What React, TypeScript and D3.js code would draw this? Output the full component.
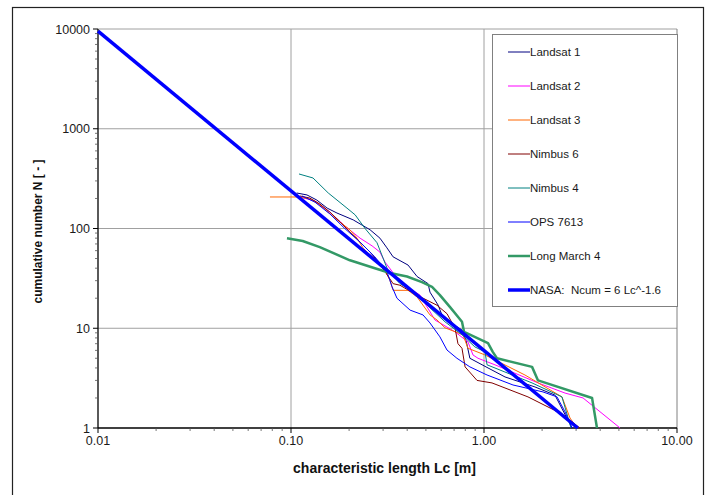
import React from "react";
import * as d3 from "d3";

// values: [Lc in m, cumulative number N]
const landsat1: [number, number][] = [
  [0.107, 227], [0.121, 217], [0.136, 193], [0.154, 160], [0.173, 143], [0.21, 122],
  [0.257, 97], [0.289, 80], [0.314, 64], [0.338, 52], [0.404, 43], [0.45, 33],
  [0.513, 28], [0.525, 23], [0.578, 17.1], [0.614, 12.7], [0.769, 9.6], [0.807, 7.6],
  [0.845, 5.0], [1.049, 4.0], [1.285, 3.25], [1.837, 2.58], [2.33, 2.14], [2.86, 1],
];
const landsat2: [number, number][] = [
  [0.111, 207], [0.133, 189], [0.159, 146], [0.19, 106], [0.228, 80], [0.263, 67],
  [0.289, 58], [0.307, 46], [0.346, 34], [0.414, 25], [0.466, 21.5], [0.557, 12.1],
  [0.708, 9.2], [0.826, 7.3], [0.877, 5.4], [0.931, 5.0], [1.14, 4.3], [1.905, 2.83],
  [2.63, 2.24], [3.26, 2.0], [5.07, 1],
];
const landsat3: [number, number][] = [
  [0.0778, 207], [0.1086, 207], [0.125, 198], [0.141, 172], [0.169, 127], [0.202, 97],
  [0.22, 80], [0.236, 64], [0.272, 48], [0.307, 38], [0.326, 30], [0.338, 24],
  [0.404, 24], [0.45, 20.6], [0.525, 13.6], [0.571, 12.1], [0.628, 10.1], [0.778, 8.6],
  [0.826, 6.3], [1.012, 5.4], [1.63, 3.4], [2.535, 2.05], [2.79, 1.26], [3.03, 1],
];
const nimbus6: [number, number][] = [
  [0.111, 212], [0.125, 202], [0.141, 176], [0.159, 146], [0.18, 116], [0.202, 92],
  [0.228, 73], [0.257, 58], [0.289, 44], [0.338, 28], [0.367, 27], [0.439, 22],
  [0.571, 17], [0.643, 14], [0.708, 10], [0.733, 7], [0.769, 6.3], [0.798, 4.1],
  [0.92, 3.0], [1.1, 2.83], [1.69, 2.05], [2.33, 1.5], [2.86, 1.15], [3.14, 1],
];
const nimbus4: [number, number][] = [
  [0.11, 352], [0.13, 321], [0.156, 227], [0.195, 160], [0.215, 137], [0.242, 100],
  [0.279, 72], [0.307, 45], [0.318, 38], [0.367, 28], [0.439, 22.6], [0.525, 16],
  [0.628, 11.6], [0.769, 8.6], [0.897, 6.5], [1.012, 5.8], [1.037, 4.3], [1.774, 2.83],
  [2.535, 2.05], [2.825, 1],
];
const ops7613: [number, number][] = [
  [0.114, 212], [0.133, 184], [0.159, 140], [0.19, 100], [0.228, 73], [0.272, 52],
  [0.314, 37], [0.334, 26], [0.354, 20], [0.414, 15.2], [0.483, 13.6], [0.525, 11.3],
  [0.591, 8.2], [0.643, 6.05], [0.724, 5.0], [0.845, 4.1], [1.037, 3.4], [1.413, 2.7],
  [2.02, 2.3], [2.39, 2.05], [2.63, 1.45], [2.86, 1],
];
const longMarch4: [number, number][] = [
  [0.0953, 80], [0.115, 75], [0.141, 65], [0.202, 48], [0.272, 40], [0.326, 35.8],
  [0.399, 33], [0.477, 29], [0.538, 26], [0.591, 21.5], [0.667, 16.3], [0.769, 11.6],
  [0.788, 9.2], [1.049, 7.1], [1.11, 5.8], [1.167, 5.0], [1.774, 4.1], [1.905, 3.0],
  [3.63, 2.0], [3.85, 1],
];
const nasa: [number, number][] = [[0.01, 9500], [3.06, 1]];

const seriesNames = [
  "Landsat 1", "Landsat 2", "Landsat 3", "Nimbus 6", "Nimbus 4", "OPS 7613",
  "Long March 4", "NASA:  Ncum = 6 Lc^-1.6",
];
const seriesData = [landsat1, landsat2, landsat3, nimbus6, nimbus4, ops7613, longMarch4, nasa];
const seriesColors = ["#000080", "#FF00FF", "#FF6600", "#800000", "#008080", "#0000FF", "#339966", "#0000FF"];
const seriesWidths = [1, 1, 1, 1, 1, 1, 2.5, 3.5];

const xTickValues = [0.01, 0.1, 1, 10];
const xTickLabels = ["0.01", "0.10", "1.00", "10.00"];
const yTickValues = [1, 10, 100, 1000, 10000];
const yTickLabels = ["1", "10", "100", "1000", "10000"];

const W = 707;
const H = 495;
const plot = { left: 98, right: 677, top: 29, bottom: 428 };
const font = "'Liberation Sans', Arial, sans-serif";

export default function App() {
  const x = d3.scaleLog().domain([0.01, 10]).range([plot.left, plot.right]);
  const y = d3.scaleLog().domain([1, 10000]).range([plot.bottom, plot.top]);

  const line = d3
    .line<[number, number]>()
    .x((d) => x(d[0]))
    .y((d) => y(d[1]));

  // minor ticks 2..9 in each decade
  const xMinor: number[] = [];
  [0.01, 0.1, 1].forEach((b) => d3.range(2, 10).forEach((k) => xMinor.push(b * k)));
  const yMinor: number[] = [];
  [1, 10, 100, 1000].forEach((b) => d3.range(2, 10).forEach((k) => yMinor.push(b * k)));

  const legend = { left: 492, top: 34, right: 677, bottom: 306 };
  const legendY = d3
    .scaleLinear()
    .domain([0, seriesNames.length - 1])
    .range([52, 290]);

  return (
    <svg
      width={W}
      height={H}
      style={{ position: "absolute", left: 0, top: 0, background: "#fff" }}
      fontFamily={font}
    >
      <rect x={12.5} y={7.5} width={691} height={500} fill="#fff" stroke="#222" strokeWidth={1.2} />

      {/* gridlines */}
      {xTickValues.slice(1, 3).map((v) => (
        <line key={"gx" + v} x1={x(v)} x2={x(v)} y1={plot.top} y2={plot.bottom} stroke="#a0a0a0" strokeWidth={1} />
      ))}
      {yTickValues.slice(1).map((v) => (
        <line key={"gy" + v} x1={plot.left} x2={plot.right} y1={y(v)} y2={y(v)} stroke="#a0a0a0" strokeWidth={1} />
      ))}
      <line x1={plot.right} x2={plot.right} y1={plot.top} y2={plot.bottom} stroke="#808080" strokeWidth={1} />

      {/* axes */}
      <line x1={plot.left} x2={plot.left} y1={plot.top} y2={plot.bottom} stroke="#000" strokeWidth={1.3} />
      <line x1={plot.left} x2={plot.right} y1={plot.bottom} y2={plot.bottom} stroke="#000" strokeWidth={1.3} />
      {yMinor.map((v) => (
        <line key={"my" + v} x1={plot.left - 3} x2={plot.left} y1={y(v)} y2={y(v)} stroke="#555" strokeWidth={0.8} />
      ))}
      {yTickValues.map((v, i) => (
        <g key={"ty" + v}>
          <line x1={plot.left - 5} x2={plot.left} y1={y(v)} y2={y(v)} stroke="#000" />
          <text x={plot.left - 8} y={y(v) + 4.5} textAnchor="end" fontSize={12.5} fill="#1a1a1a">
            {yTickLabels[i]}
          </text>
        </g>
      ))}
      {xMinor.map((v) => (
        <line key={"mx" + v} x1={x(v)} x2={x(v)} y1={plot.bottom} y2={plot.bottom + 3} stroke="#555" strokeWidth={0.8} />
      ))}
      {xTickValues.map((v, i) => (
        <g key={"tx" + v}>
          <line x1={x(v)} x2={x(v)} y1={plot.bottom} y2={plot.bottom + 5} stroke="#000" />
          <text x={x(v)} y={plot.bottom + 17} textAnchor="middle" fontSize={12.5} fill="#1a1a1a">
            {xTickLabels[i]}
          </text>
        </g>
      ))}

      {/* series */}
      {seriesData.map((d, i) => (
        <path
          key={"s" + i}
          d={line(d) ?? ""}
          fill="none"
          stroke={seriesColors[i]}
          strokeWidth={seriesWidths[i]}
          strokeLinejoin="round"
        />
      ))}

      {/* axis titles */}
      <text x={(plot.left + plot.right) / 2 - 3} y={473} textAnchor="middle" fontSize={14} fontWeight="bold" fill="#111">
        characteristic length Lc [m]
      </text>
      <text
        transform={`translate(42, ${(plot.top + plot.bottom) / 2 + 3}) rotate(-90)`}
        textAnchor="middle"
        fontSize={12}
        fontWeight="bold"
        fill="#111"
      >
        cumulative number N [ - ]
      </text>

      {/* legend */}
      <rect
        x={legend.left + 0.5}
        y={legend.top + 0.5}
        width={legend.right - legend.left}
        height={legend.bottom - legend.top}
        fill="#fff"
        stroke="#808080"
      />
      {seriesNames.map((name, i) => (
        <g key={"lg" + i}>
          <line x1={508} x2={530} y1={legendY(i)} y2={legendY(i)} stroke={seriesColors[i]} strokeWidth={seriesWidths[i]} />
          <text x={530} y={legendY(i) + 4} fontSize={11.5} fill="#1a1a1a" style={{ whiteSpace: "pre" }}>
            {name}
          </text>
        </g>
      ))}
    </svg>
  );
}
